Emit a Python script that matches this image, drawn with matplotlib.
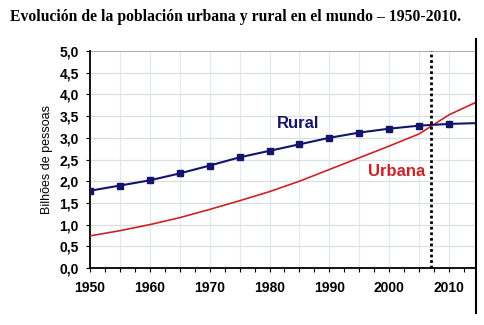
import matplotlib
matplotlib.use('Agg')
import matplotlib.pyplot as plt
from matplotlib.lines import Line2D
from matplotlib.ticker import MultipleLocator, FuncFormatter

# data (billions of people)
years = [1950, 1955, 1960, 1965, 1970, 1975, 1980, 1985, 1990, 1995, 2000, 2005, 2010, 2015]
rural = [1.78, 1.90, 2.02, 2.18, 2.36, 2.55, 2.70, 2.85, 3.00, 3.12, 3.21, 3.28, 3.32, 3.34]
urbana = [0.74, 0.86, 1.00, 1.16, 1.35, 1.55, 1.76, 2.00, 2.27, 2.54, 2.81, 3.09, 3.53, 3.85]
cross_year = 2007

title = "Evolución de la población urbana y rural en el mundo – 1950-2010."
ylabel = "Bilhões de pessoas"

navy = '#14146a'
red = '#cc2229'

fig = plt.figure(figsize=(4.85, 3.25), dpi=100)
ax = fig.add_axes([90/485, 57/325, 386/485, 217/325])

# grid
for x in range(1955, 2015, 5):
    ax.axvline(x, color='#e0eaf2', lw=0.9, zorder=0)
for y in [0.5 * i for i in range(1, 10)]:
    ax.axhline(y, color='#dadfe4', lw=0.9, zorder=0)
ax.axhline(5.0, color='#9a9a9a', lw=1.2, zorder=1)

ax.plot(years, urbana, color=red, lw=1.2, zorder=3)
ax.plot(years, rural, color=navy, lw=1.5, marker='s', markersize=4.5, zorder=4)
ax.axvline(cross_year, color='black', ls=(0, (1, 1)), lw=2, zorder=5)

ax.text(1981.2, 3.33, "Rural", color=navy, fontsize=12, fontweight='bold',
        family='Liberation Sans', va='center', ha='left')
ax.text(1996.4, 2.22, "Urbana", color=red, fontsize=12, fontweight='bold',
        family='Liberation Sans', va='center', ha='left')

ax.set_xlim(1950, 2014.5)
ax.set_ylim(0, 5)
ax.xaxis.set_major_locator(MultipleLocator(10))
ax.xaxis.set_minor_locator(MultipleLocator(2.5))
ax.yaxis.set_major_locator(MultipleLocator(0.5))
ax.yaxis.set_major_formatter(FuncFormatter(lambda v, p: f"{v:.1f}".replace('.', ',')))

for lab in ax.get_xticklabels() + ax.get_yticklabels():
    lab.set_fontweight('bold')
    lab.set_family('Liberation Sans')
    lab.set_fontsize(10)
ax.tick_params(axis='x', which='both', length=3, width=0.8, pad=6)
ax.tick_params(axis='y', length=3, width=0.8, pad=5)

ax.set_ylabel(ylabel, fontsize=9, family='Liberation Sans', labelpad=5)

for s in ['top', 'right']:
    ax.spines[s].set_visible(False)
ax.spines['left'].set_linewidth(1.3)
ax.spines['bottom'].set_linewidth(1.3)

# right border line that runs past the plot area
fig.add_artist(Line2D([476/485, 476/485], [1 - 39/325, 1 - 313/325],
                      color='black', lw=1.5, transform=fig.transFigure))

fig.text(10/485, 1 - 17/325, title, fontsize=11.3, fontweight='bold',
         family='Liberation Serif', va='center', ha='left')

fig.savefig('out.png', dpi=100)
